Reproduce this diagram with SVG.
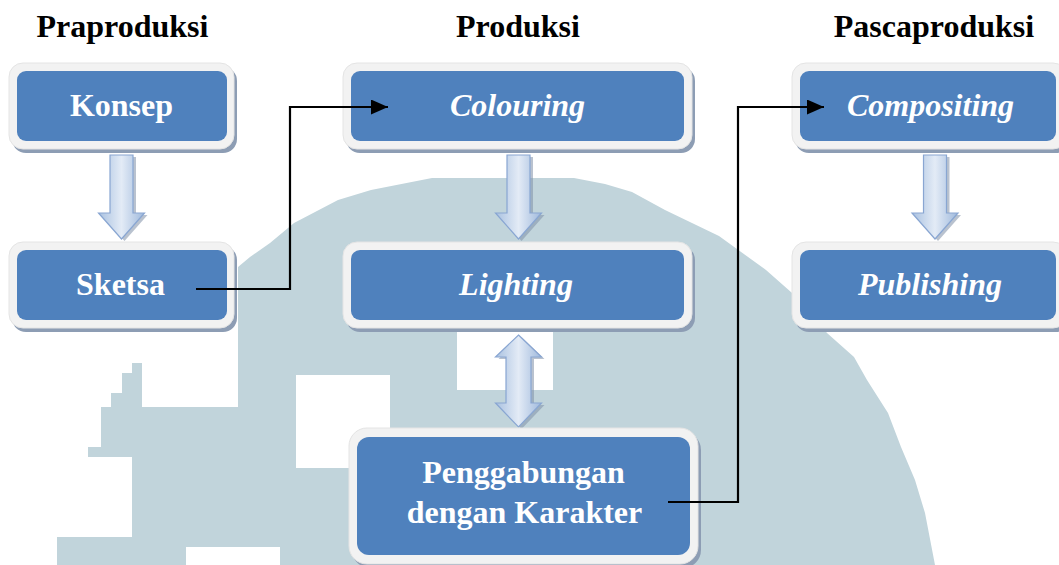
<svg xmlns="http://www.w3.org/2000/svg" width="1059" height="565" viewBox="0 0 1059 565">
<style>
.hdr{font-family:"Liberation Serif","Times New Roman",serif;font-weight:bold;font-size:32px;fill:#000;text-anchor:middle}
.lbl{font-family:"Liberation Serif","Times New Roman",serif;font-weight:bold;font-size:32px;fill:#fff;text-anchor:middle}
.it{font-style:italic}
.sh{fill:#8d9db4}
.frame{fill:#f2f2f2;stroke:#e4e4e4;stroke-width:1}
.core{fill:#4f81bd}
.blk{fill:url(#ag);stroke:#89a6d2;stroke-width:1.2}
.blksh{fill:#7f90a8;opacity:0.55}
.conn{fill:none;stroke:#000;stroke-width:2.2}
</style>
<defs>
<linearGradient id="ag" x1="0" y1="0" x2="1" y2="0">
<stop offset="0" stop-color="#a9c1e0"/>
<stop offset="0.5" stop-color="#e3ebf6"/>
<stop offset="1" stop-color="#9fb9dc"/>
</linearGradient>
<path id="down" d="M-11.5,0 H11.5 V58 H23 L0,84 L-23,58 H-11.5 Z"/>
<path id="dbl" d="M0,0 L23,22 H12.5 V68 H23 L0,92 L-23,68 H-12.5 V22 H-23 Z"/>
<marker id="ah" markerWidth="17" markerHeight="15" refX="17" refY="7.5" orient="auto" markerUnits="userSpaceOnUse">
<path d="M0,0 L17,7.5 L0,15 Z" fill="#000"/>
</marker>
</defs>
<rect width="1059" height="565" fill="#fff"/>
<g id="watermark">
<path fill="#c1d4db" d="M432,178 L574,178 L605,184 L632,192 L665,210 L719,236 L766,270 L800,300 L827,333 L854,357 L867,380 L888,413 L901,447 L915,480 L925,513 L935,565 L280,565 L280,547 L186,547 L186,565 L57,565 L57,537 L132,537 L132,457 L88,457 L88,447 L101,447 L101,407 L111,407 L111,393 L122,393 L122,373 L132,373 L132,363 L142,363 L142,407 L238,407 L238,267 L250,257 L270,243 L294,223 L338,200 L371,190 Z"/>
<rect x="296" y="375" width="94" height="93" fill="#fff"/>
<rect x="457" y="330" width="96" height="60" fill="#fff"/>
</g>
<g id="arrows">
<use href="#down" class="blksh" transform="translate(124.5,157)"/>
<use href="#down" class="blk" transform="translate(121.5,155)"/>
<use href="#down" class="blksh" transform="translate(521.5,157)"/>
<use href="#down" class="blk" transform="translate(518.5,155)"/>
<use href="#down" class="blksh" transform="translate(938,157)"/>
<use href="#down" class="blk" transform="translate(935,155)"/>
<use href="#dbl" class="blksh" transform="translate(521.5,337)"/>
<use href="#dbl" class="blk" transform="translate(518.5,335)"/>
</g>
<g id="headers">
<text class="hdr" x="122.5" y="37">Praproduksi</text>
<text class="hdr" x="518" y="37">Produksi</text>
<text class="hdr" x="934" y="37">Pascaproduksi</text>
</g>
<g id="konsep">
<rect class="sh" x="12" y="67" width="225" height="86" rx="14"/>
<rect class="frame" x="9" y="63" width="225" height="86" rx="14"/>
<rect class="core" x="17" y="71" width="210" height="70" rx="9"/>
<text class="lbl" x="121.5" y="116">Konsep</text>
</g>
<g id="sketsa">
<rect class="sh" x="12" y="246" width="225" height="86" rx="14"/>
<rect class="frame" x="9" y="242" width="225" height="86" rx="14"/>
<rect class="core" x="17" y="250" width="210" height="70" rx="9"/>
<text class="lbl" x="120.5" y="295">Sketsa</text>
</g>
<g id="colouring">
<rect class="sh" x="346" y="67" width="349" height="86" rx="14"/>
<rect class="frame" x="343" y="63" width="349" height="86" rx="14"/>
<rect class="core" x="351" y="71" width="333" height="70" rx="9"/>
<text class="lbl it" x="517.5" y="116">Colouring</text>
</g>
<g id="lighting">
<rect class="sh" x="346" y="246" width="349" height="86" rx="14"/>
<rect class="frame" x="343" y="242" width="349" height="86" rx="14"/>
<rect class="core" x="351" y="250" width="333" height="70" rx="9"/>
<text class="lbl it" x="516" y="295">Lighting</text>
</g>
<g id="penggabungan">
<rect class="sh" x="352" y="432" width="349" height="136" rx="18"/>
<rect class="frame" x="349" y="428" width="349" height="136" rx="18"/>
<rect class="core" x="357" y="437" width="333" height="118" rx="12"/>
<text class="lbl" x="523.5" y="483">Penggabungan</text>
<text class="lbl" x="524.5" y="523">dengan Karakter</text>
</g>
<g id="compositing">
<rect class="sh" x="795" y="67" width="275" height="86" rx="14"/>
<rect class="frame" x="792" y="63" width="275" height="86" rx="14"/>
<rect class="core" x="800" y="71" width="256" height="70" rx="9"/>
<text class="lbl it" x="930.5" y="116">Compositing</text>
</g>
<g id="publishing">
<rect class="sh" x="795" y="246" width="275" height="86" rx="14"/>
<rect class="frame" x="792" y="242" width="275" height="86" rx="14"/>
<rect class="core" x="800" y="250" width="256" height="70" rx="9"/>
<text class="lbl it" x="930" y="295">Publishing</text>
</g>
<g id="connectors">
<path class="conn" d="M196,289 H290 V107 H388" marker-end="url(#ah)"/>
<path class="conn" d="M668,502 H738 V107 H824" marker-end="url(#ah)"/>
</g>
</svg>
